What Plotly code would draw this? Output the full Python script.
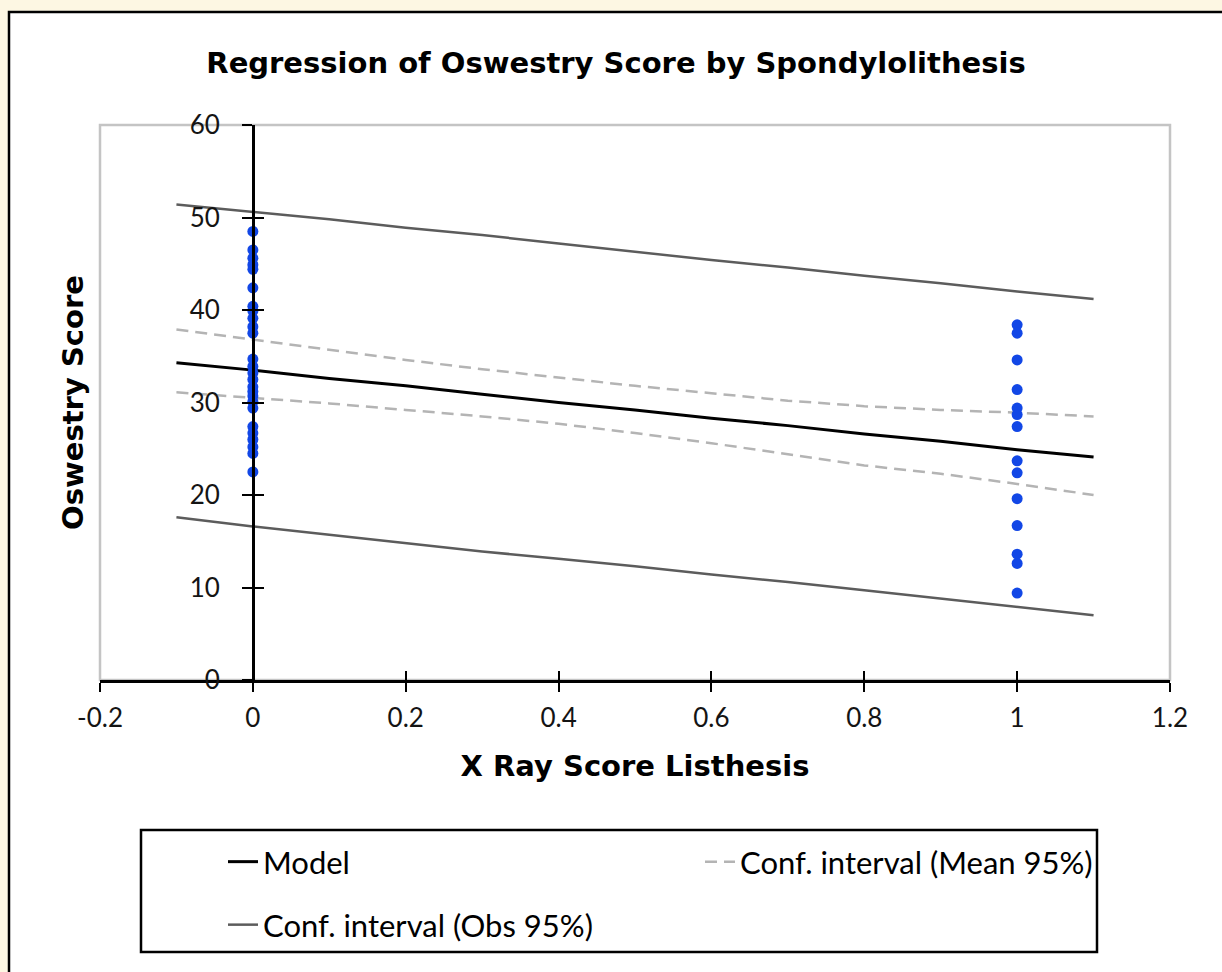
import plotly.graph_objects as go

# ---------------- data ----------------
title_text = "Regression of Oswestry Score by Spondylolithesis"
x_title = "X Ray Score Listhesis"
y_title = "Oswestry Score"

line_x = [-0.1, 0.0, 0.1, 0.2, 0.3, 0.4, 0.5, 0.6, 0.7, 0.8, 0.9, 1.0, 1.1]
model_y = [34.3, 33.5, 32.6, 31.8, 30.9, 30.0, 29.2, 28.3, 27.5, 26.6, 25.8, 24.9, 24.1]
mean_upper = [37.9, 36.8, 35.7, 34.6, 33.6, 32.7, 31.8, 31.0, 30.2, 29.6, 29.2, 28.9, 28.5]
mean_lower = [31.1, 30.5, 29.9, 29.2, 28.5, 27.7, 26.7, 25.6, 24.4, 23.2, 22.3, 21.2, 20.0]
obs_upper = [51.4, 50.6, 49.8, 48.9, 48.1, 47.2, 46.3, 45.4, 44.6, 43.7, 42.9, 42.0, 41.2]
obs_lower = [17.6, 16.6, 15.7, 14.8, 13.9, 13.1, 12.3, 11.4, 10.6, 9.7, 8.8, 7.9, 7.0]

group0_x = 0
group0_scores = [48.5, 46.5, 45.6, 44.9, 44.4, 42.4, 40.4, 39.9, 39.1, 38.2, 37.5,
                 34.7, 33.9, 33.2, 32.5, 31.7, 31.2, 30.7, 30.1, 29.4,
                 27.4, 26.7, 26.0, 25.2, 24.5, 22.5]
group1_x = 1
group1_scores = [38.4, 37.5, 34.6, 31.4, 29.4, 28.7, 27.4, 23.7, 22.4, 19.6,
                 16.7, 13.6, 12.6, 9.4]

x_range = [-0.2, 1.2]
y_range = [0, 60]
x_tickvals = [-0.2, 0.0, 0.2, 0.4, 0.6, 0.8, 1.0, 1.2]
x_ticktext = ["-0.2", "0", "0.2", "0.4", "0.6", "0.8", "1", "1.2"]
y_tickvals = [0, 10, 20, 30, 40, 50, 60]
y_ticktext = ["0", "10", "20", "30", "40", "50", "60"]

legend_model = "Model"
legend_mean = "Conf. interval (Mean 95%)"
legend_obs = "Conf. interval (Obs 95%)"

# ---------------- styles ----------------
W, H = 1222, 972
ML, MR, MT, MB = 100, 52, 125, 292
PW, PH = W - ML - MR, H - MT - MB

BOLD = dict(family="DejaVu Sans", weight="bold", color="black")
TICKFONT = dict(family="Lato", size=26, color="#141414")
LEGFONT = dict(family="Lato", size=31, color="black")

OBS_COLOR = "#5c5c5c"
MEAN_COLOR = "#b4b4b4"
DOT_COLOR = "#1247E6"


def px_x(p):
    return (p - ML) / PW


def px_y(p):
    return (H - MB - p) / PH


fig = go.Figure()

fig.add_trace(go.Scatter(x=line_x, y=obs_upper, mode="lines", name=legend_obs,
                         legend="legend2", legendgroup="obs",
                         line=dict(color=OBS_COLOR, width=2.5)))
# lower observation band drawn on the overlay axes (x2 / y3) that carry the inward ticks
fig.add_trace(go.Scatter(x=line_x, y=obs_lower, mode="lines", name=legend_obs,
                         legendgroup="obs", showlegend=False,
                         xaxis="x2", yaxis="y3",
                         line=dict(color=OBS_COLOR, width=2.5)))
fig.add_trace(go.Scatter(x=line_x, y=mean_upper, mode="lines", name=legend_mean,
                         legend="legend", legendgroup="mean", legendrank=2,
                         line=dict(color=MEAN_COLOR, width=2.5, dash="12px,7px")))
fig.add_trace(go.Scatter(x=line_x, y=mean_lower, mode="lines", name=legend_mean,
                         legendgroup="mean", showlegend=False,
                         line=dict(color=MEAN_COLOR, width=2.5, dash="12px,7px")))
fig.add_trace(go.Scatter(x=line_x, y=model_y, mode="lines", name=legend_model,
                         legend="legend", legendrank=1,
                         line=dict(color="black", width=3)))
# observations drawn on the y axis that sits at x = 0
fig.add_trace(go.Scatter(x=[group0_x] * len(group0_scores) + [group1_x] * len(group1_scores),
                         y=group0_scores + group1_scores, mode="markers",
                         showlegend=False, name="Observations", yaxis="y2",
                         marker=dict(color=DOT_COLOR, size=11, line=dict(width=0))))

yaxis_pos = (0 - x_range[0]) / (x_range[1] - x_range[0])

fig.update_layout(
    width=W, height=H,
    margin=dict(l=ML, r=MR, t=MT, b=MB, autoexpand=False),
    paper_bgcolor="#FDF7E3",
    plot_bgcolor="rgba(0,0,0,0)",
    title=dict(text=title_text, x=616 / W, xref="container", xanchor="center",
               y=1 - 63 / H, yref="container", yanchor="middle",
               font=dict(size=29, **BOLD)),
    xaxis=dict(domain=[0, 1], range=x_range, tickmode="array", tickvals=x_tickvals,
               ticktext=x_ticktext, ticks="outside", ticklen=9, tickwidth=2,
               tickcolor="black", showline=True, linecolor="black", linewidth=2.5,
               showgrid=False, zeroline=False, tickfont=TICKFONT,
               ticklabelstandoff=4, fixedrange=True,
               title=dict(text=x_title, font=dict(size=29, **BOLD), standoff=24)),
    xaxis2=dict(overlaying="x", anchor="y", side="bottom", range=x_range,
                tickmode="array", tickvals=x_tickvals, ticks="inside", ticklen=9,
                tickwidth=2, tickcolor="black", showticklabels=False,
                showline=False, showgrid=False, zeroline=False, fixedrange=True),
    yaxis=dict(range=y_range, showticklabels=False, ticks="", showline=False,
               showgrid=False, zeroline=False, fixedrange=True,
               title=dict(text=y_title, font=dict(size=29, **BOLD), standoff=6)),
    yaxis2=dict(overlaying="y", anchor="free", position=yaxis_pos, side="left",
                range=y_range, tickmode="array", tickvals=y_tickvals,
                ticktext=y_ticktext, ticks="outside", ticklen=10, tickwidth=2,
                tickcolor="black", showline=True, linecolor="black", linewidth=2.5,
                tickfont=TICKFONT, ticklabelstandoff=17, showgrid=False,
                zeroline=False, fixedrange=True),
    yaxis3=dict(overlaying="y", anchor="free", position=yaxis_pos, side="left",
                range=y_range, tickmode="array", tickvals=y_tickvals, ticks="inside",
                ticklen=10, tickwidth=2, tickcolor="black", showticklabels=False,
                showline=False, showgrid=False, zeroline=False, fixedrange=True),
    legend=dict(orientation="h", x=px_x(223), xanchor="left", y=px_y(862),
                yanchor="middle", font=LEGFONT, bgcolor="rgba(0,0,0,0)",
                borderwidth=0, traceorder="normal", entrywidth=432,
                entrywidthmode="pixels"),
    legend2=dict(orientation="h", x=px_x(223), xanchor="left", y=px_y(925),
                 yanchor="middle", font=LEGFONT, bgcolor="rgba(0,0,0,0)",
                 borderwidth=0),
    shapes=[
        dict(type="rect", xref="paper", yref="paper", layer="below",
             x0=px_x(9), x1=px_x(1260), y0=px_y(1020), y1=px_y(12),
             fillcolor="white", line=dict(color="black", width=2.5)),
        dict(type="rect", xref="paper", yref="paper", layer="below",
             x0=0, x1=1, y0=0, y1=1, line=dict(color="#c4c4c4", width=2.5)),
        dict(type="rect", xref="paper", yref="paper", layer="above",
             x0=px_x(141), x1=px_x(1097), y0=px_y(952), y1=px_y(830),
             line=dict(color="black", width=2.5)),
    ],
    showlegend=True,
)

fig.write_html("out.html")
